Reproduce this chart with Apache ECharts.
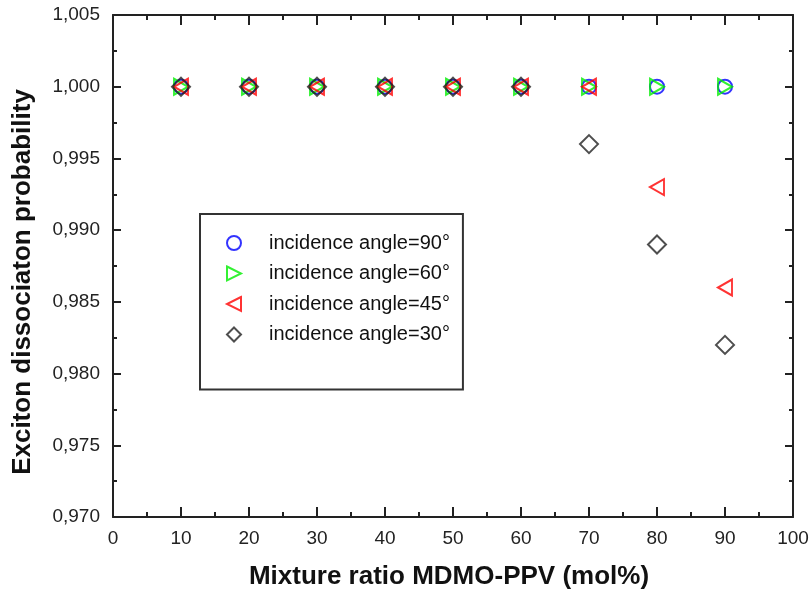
<!DOCTYPE html>
<html>
<head>
<meta charset="utf-8">
<script src="https://cdn.jsdelivr.net/npm/echarts@6/dist/echarts.min.js"></script>
<style>html,body{margin:0;padding:0;background:#fff}#c{width:809px;height:592px}</style>
</head>
<body>
<div id="c"></div>
<script>
const xValues = [10, 20, 30, 40, 50, 60, 70, 80, 90];
const angle90 = [1.000, 1.000, 1.000, 1.000, 1.000, 1.000, 1.000, 1.000, 1.000];
const angle60 = [1.000, 1.000, 1.000, 1.000, 1.000, 1.000, 1.000, 1.000, 1.000];
const angle45 = [1.000, 1.000, 1.000, 1.000, 1.000, 1.000, 1.000, 0.993, 0.986];
const angle30 = [1.000, 1.000, 1.000, 1.000, 1.000, 1.000, 0.996, 0.989, 0.982];
const seriesNames = ['incidence angle=90°', 'incidence angle=60°', 'incidence angle=45°', 'incidence angle=30°'];
const xTitle = 'Mixture ratio MDMO-PPV (mol%)';
const yTitle = 'Exciton dissociaton probability';

const pairs = arr => xValues.map((x, i) => [x, arr[i]]);
const FONT = 'Liberation Sans, Arial, sans-serif';
const AX = '#222';

const tickCommon = (len, minorLen) => ({
  axisLine: { show: true, onZero: false, lineStyle: { color: AX, width: 2 } },
  axisTick: { show: true, inside: true, length: len, lineStyle: { color: AX, width: 2 } },
  minorTick: { show: true, splitNumber: 2, length: minorLen, lineStyle: { color: AX, width: 2 } },
  splitLine: { show: false },
  minorSplitLine: { show: false }
});

const chart = echarts.init(document.getElementById('c'), null, { renderer: 'canvas' });
chart.setOption({
  animation: false,
  backgroundColor: '#fff',
  grid: { left: 113, right: 16, top: 15, bottom: 75, containLabel: false, outerBoundsMode: 'none' },
  xAxis: [
    Object.assign({
      type: 'value', min: 0, max: 100, interval: 10, position: 'bottom',
      name: xTitle, nameLocation: 'middle', nameGap: 47,
      nameTextStyle: { fontFamily: FONT, fontSize: 26, fontWeight: 'bold', color: '#111', padding: [0, 8, 0, 0] },
      axisLabel: { margin: 12, fontFamily: FONT, fontSize: 19, color: '#222' }
    }, tickCommon(10, 5)),
    Object.assign({
      type: 'value', min: 0, max: 100, interval: 10, position: 'top',
      axisLabel: { show: false }
    }, tickCommon(10, 5))
  ],
  yAxis: [
    Object.assign({
      type: 'value', min: 0.970, max: 1.005, interval: 0.005, position: 'left',
      axisLabel: { margin: 13, fontFamily: FONT, fontSize: 19, color: '#222',
        formatter: v => v.toFixed(3).replace('.', ',') }
    }, tickCommon(8, 4)),
    Object.assign({
      type: 'value', min: 0.970, max: 1.005, interval: 0.005, position: 'right',
      axisLabel: { show: false }
    }, tickCommon(8, 4))
  ],
  graphic: [
    { type: 'text', x: 23, y: 282, rotation: Math.PI / 2,
      style: { text: yTitle, fontFamily: FONT, fontSize: 26, fontWeight: 'bold', fill: '#111',
        align: 'center', verticalAlign: 'middle' } }
  ],
  legend: {
    orient: 'vertical', left: 200, top: 214,
    padding: [19, 13, 45, 26],
    borderColor: '#333', borderWidth: 2,
    itemWidth: 14, itemHeight: 14, itemGap: 10.5,
    textStyle: { fontFamily: FONT, fontSize: 20, color: '#111', padding: [0, 0, 0, 23] },
    data: seriesNames
  },
  series: [
    { name: seriesNames[0], type: 'scatter', data: pairs(angle90), symbol: 'circle', symbolSize: 14,
      itemStyle: { color: 'transparent', borderColor: '#0000ff', borderWidth: 2 } },
    { name: seriesNames[1], type: 'scatter', data: pairs(angle60), symbol: 'path://M0,0 L10,5 L0,10 Z', symbolSize: [14, 16],
      itemStyle: { color: 'transparent', borderColor: '#00ee00', borderWidth: 2 } },
    { name: seriesNames[2], type: 'scatter', data: pairs(angle45), symbol: 'path://M10,0 L0,5 L10,10 Z', symbolSize: [14, 16],
      itemStyle: { color: 'transparent', borderColor: '#ff0000', borderWidth: 2 } },
    { name: seriesNames[3], type: 'scatter', data: pairs(angle30), symbol: 'diamond', symbolSize: 18,
      itemStyle: { color: 'transparent', borderColor: '#222222', borderWidth: 2 } }
  ]
});
</script>
</body>
</html>
